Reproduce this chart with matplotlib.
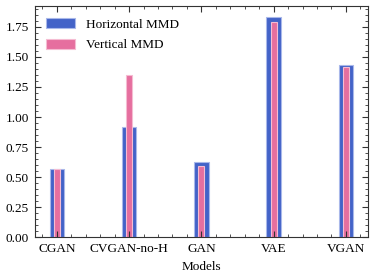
import matplotlib
matplotlib.use("Agg")
import matplotlib.pyplot as plt
from matplotlib.ticker import MultipleLocator
import numpy as np

models = ["CGAN", "CVGAN-no-H", "GAN", "VAE", "VGAN"]
horizontal_mmd = [0.57, 0.92, 0.63, 1.83, 1.43]
vertical_mmd = [0.57, 1.35, 0.59, 1.79, 1.42]

plt.rcParams["font.family"] = ["Liberation Serif", "DejaVu Serif"]
plt.rcParams["mathtext.fontset"] = "stix"
plt.rcParams["font.size"] = 9.5

fig, ax = plt.subplots(figsize=(3.75, 2.8), dpi=100)
x = np.arange(len(models))
ax.bar(x, horizontal_mmd, width=0.2, color="#4363c8", edgecolor="#a9b8ea",
       linewidth=0.8, label="Horizontal MMD")
ax.bar(x, vertical_mmd, width=0.08, color="#e66f9f", edgecolor="#f5bcd2",
       linewidth=0.8, label="Vertical MMD")

ax.set_xticks(x)
ax.set_xticklabels(models)
ax.set_xlabel("Models", labelpad=4)
ax.yaxis.set_major_locator(MultipleLocator(0.25))
ax.yaxis.set_minor_locator(MultipleLocator(0.05))
ax.xaxis.set_minor_locator(MultipleLocator(0.2))
ax.yaxis.set_major_formatter(matplotlib.ticker.FormatStrFormatter("%.2f"))
ax.tick_params(which="both", direction="in", top=True, right=True, color="#333333")
ax.tick_params(which="major", length=4, width=0.8, pad=4)
ax.tick_params(which="minor", length=2, width=0.6)
for s in ax.spines.values():
    s.set_linewidth(0.8)
    s.set_color("#333333")

ax.legend(loc="upper left", frameon=False, handlelength=2.2, handleheight=0.8,
          fontsize=9.5, borderaxespad=0.5, labelspacing=0.6)

fig.subplots_adjust(left=0.092, right=0.982, top=0.978, bottom=0.152)
fig.savefig("out.png", dpi=100)
